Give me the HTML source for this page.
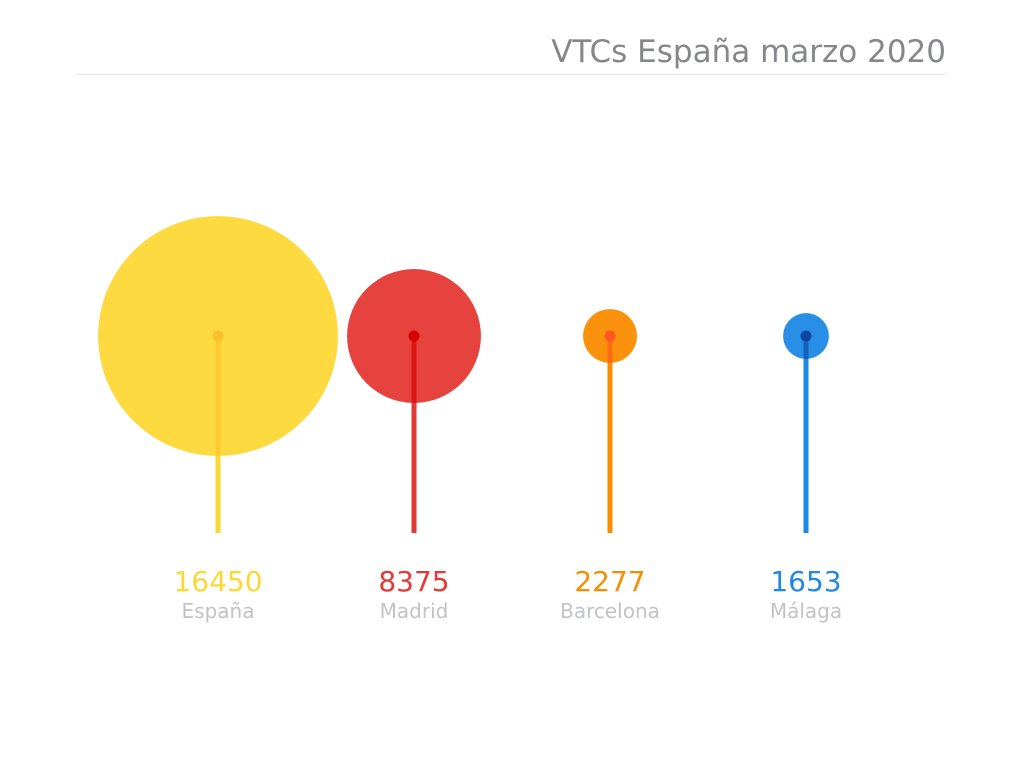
<!DOCTYPE html>
<html><head><meta charset="utf-8"><style>
html,body{margin:0;padding:0;background:#fff;width:1024px;height:768px;overflow:hidden}
svg{display:block}
text{font-family:"DejaVu Sans","Liberation Sans",sans-serif}
</style></head><body>
<svg id="chart" width="1024" height="768">
<text x="946" y="62" text-anchor="end" font-size="31" fill="#86878b">VTCs España marzo 2020</text>
<line x1="77" y1="74.5" x2="946" y2="74.5" stroke="#e6e6e6" stroke-width="1"/>
<g id="marks"></g>
</svg>
<script>
const categories = ["España","Madrid","Barcelona","Málaga"];
const values = [16450, 8375, 2277, 1653];
const colors = ["#fdd835","#e53935","#fb8c00","#1e88e5"];
const dotColors = ["#fbc02d","#d50000","#ff5722","#0d47a1"];
const svg = document.getElementById('marks');
const NS = "http://www.w3.org/2000/svg";
function xScale(i){return 218 + i*196;}
function rScale(v){return 12 + v*0.00656;}
const cy = 336, baseY = 533;
function mk(tag, attrs){const e=document.createElementNS(NS,tag);for(const k in attrs)e.setAttribute(k,attrs[k]);svg.appendChild(e);return e;}
categories.forEach((c,i)=>{
  const x = xScale(i), r = rScale(values[i]);
  const circ = mk('circle',{cx:x,cy:cy,r:r,fill:colors[i],'fill-opacity':0.95});
  
  
  const stem = mk('line',{x1:x,y1:cy,x2:x,y2:baseY,stroke:colors[i],'stroke-width':5});
  
  
  const stemIn = mk('line',{x1:x,y1:cy,x2:x,y2:Math.min(baseY,cy+r),stroke:dotColors[i],'stroke-width':5,'stroke-opacity':0.6});
  
  
  const dot = mk('circle',{cx:x,cy:cy,r:5.5,fill:dotColors[i]});
  
  
  const vt = mk('text',{x:x,y:591,'text-anchor':'middle','font-size':28,fill:colors[i]});
  vt.textContent = values[i];
  
  
  const lt = mk('text',{x:x,y:618,'text-anchor':'middle','font-size':20,fill:'#c2c3c6'});
  lt.textContent = c;
  
  
});
</script>
</body></html>
